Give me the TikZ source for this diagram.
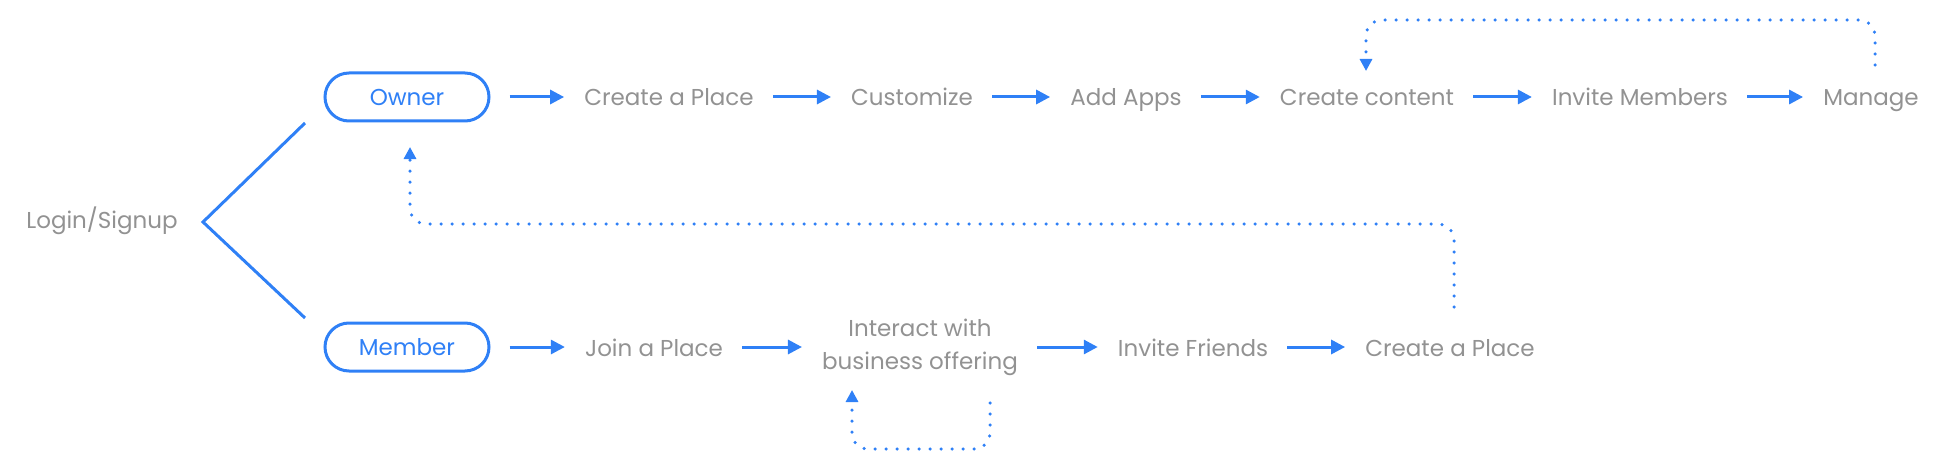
\documentclass[tikz,border=0pt]{standalone}
\usepackage{fontspec}
\usepackage{xcolor}
\usepackage{tikz}
\usetikzlibrary{arrows.meta}
\setmainfont{Poppins}

\definecolor{flowblue}{RGB}{47,128,246}
\definecolor{txtgray}{RGB}{146,146,146}

\tikzset{
  stage/.style={text=txtgray, inner sep=0pt, font=\fontsize{23}{33}\selectfont},
  oneline/.style={stage, text height=20pt, text depth=2pt},
  role/.style={draw=flowblue, line width=3pt, text=flowblue, rounded corners=24pt,
    minimum width=164pt, minimum height=48pt, inner sep=0pt, font=\fontsize{23}{30}\selectfont},
  flow/.style={draw=flowblue, line width=3pt, -{Triangle[length=14pt,width=14pt]},
    shorten <=19pt, shorten >=20pt},
  back/.style={draw=flowblue, line width=3.5pt, line cap=round, dash pattern=on 0pt off 11pt,
    rounded corners=16pt, -{Triangle[length=12pt,width=12pt]}}
}

\begin{document}
\begin{tikzpicture}[x=1pt, y=-1pt]
\useasboundingbox (0,0) rectangle (1942,468);

% draw some points
\node[oneline] (login) at (102,219) {Login/Signup};
\node[coordinate] (fork) at (203,222) {};
\node[coordinate] (forkup) at (305,123) {};
\node[coordinate] (forkdown) at (305,318) {};

\node[role] (owner) at (407,97) {Owner};
\node[oneline] (create) at (669,97) {Create a Place};
\node[oneline] (custom) at (912,97) {Customize};
\node[oneline] (apps) at (1126,97) {Add Apps};
\node[oneline] (content) at (1367,97) {Create content};
\node[oneline] (invite) at (1640,97) {Invite Members};
\node[oneline] (manage) at (1871,97) {Manage};

\node[role] (member) at (407,347) {Member};
\node[oneline] (join) at (654,347) {Join a Place};
\node[stage, align=center] (interact) at (920,347) {Interact with\\business offering};
\node[oneline] (friends) at (1193,347) {Invite Friends};
\node[oneline] (place) at (1450,347) {Create a Place};

\node[coordinate] (manageTail) at (1875,65) {};
\node[coordinate] (contentTip) at (1366,71) {};
\node[coordinate] (placeTail) at (1454,307) {};
\node[coordinate] (ownerTip) at (410,147) {};
\node[coordinate] (interactTail) at (990,403) {};
\node[coordinate] (interactTip) at (852,390) {};

% draw some lines
\draw[flowblue, line width=3pt] (forkup)--(fork)--(forkdown);

\draw[flow] (owner)--(create);
\draw[flow] (create)--(custom);
\draw[flow] (custom)--(apps);
\draw[flow] (apps)--(content);
\draw[flow] (content)--(invite);
\draw[flow] (invite)--(manage);

\draw[flow] (member)--(join);
\draw[flow] (join)--(interact);
\draw[flow] (interact)--(friends);
\draw[flow] (friends)--(place);

% dotted loops back
\draw[back] (manageTail)--++(0,-45)-|(contentTip);
\draw[back] (placeTail)--++(0,-83)-|(ownerTip);
\draw[back] (interactTail)--++(0,46)-|(interactTip);

\end{tikzpicture}
\end{document}
